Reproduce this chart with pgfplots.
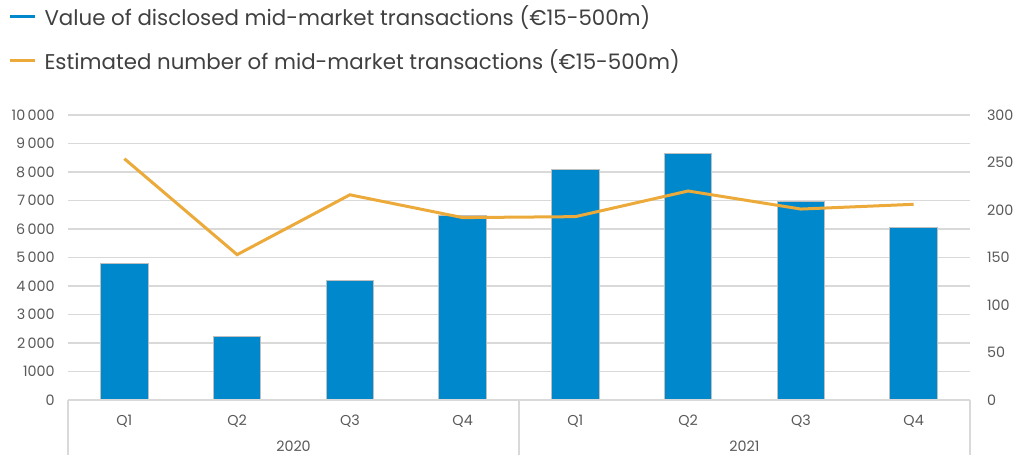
\documentclass[border=0pt]{standalone}
\usepackage{pgfplots}
\pgfplotsset{compat=1.18}
\usepackage{fontspec}
\setmainfont{Poppins}
\definecolor{barblue}{HTML}{0088CC}
\definecolor{lineorange}{HTML}{EBAA3A}
\definecolor{gridgray}{HTML}{D9D9D9}
\definecolor{txtgray}{HTML}{595959}
\definecolor{leggray}{HTML}{404040}

\begin{document}
\begin{tikzpicture}
% 1 px of the reference = 0.6pt
\useasboundingbox (0,0) rectangle (614.4pt,-282.6pt);

\begin{axis}[name=main,
    at={(40.8pt,-240pt)}, anchor=south west,
    scale only axis, width=541.2pt, height=171pt,
    xmin=-0.5, xmax=7.5, ymin=0, ymax=10000,
    scaled y ticks=false,
    axis line style={draw=none},
    xtick={0,...,7}, xticklabels={Q1,Q2,Q3,Q4,Q1,Q2,Q3,Q4},
    xtick style={draw=none},
    xticklabel style={anchor=base, yshift=-15pt, font=\fontsize{8.6}{9}\selectfont, text=txtgray},
    ytick={0,1000,...,10000},
    yticklabels={0,1000,2\,000,3\,000,4\,000,5\,000,6\,000,7\,000,8\,000,9\,000,10\,000},
    ytick style={draw=none},
    yticklabel style={inner sep=0pt, xshift=-7.8pt, font=\fontsize{8.6}{9}\selectfont, text=txtgray},
    ymajorgrids, grid style={gridgray, line width=0.9pt},
    clip=false,
    legend style={at={(-0.0665,1.3965)}, anchor=north west, draw=none, fill=none,
        font=\fontsize{12.8}{14}\selectfont, text=leggray, row sep=9pt, inner sep=0pt},
    legend cell align=left,
    legend image code/.code={\draw[#1, line width=1.8pt] (0pt,0pt) -- (15pt,0pt); \path (18.6pt,0pt);},
]
\addlegendimage{barblue}
\addlegendentry{Value of disclosed mid-market transactions (€15-500m)}
\addlegendimage{lineorange}
\addlegendentry{Estimated number of mid-market transactions (€15-500m)}

\addplot[ybar, bar width=0.42, fill=barblue, draw=gray!50, line width=0.6pt, forget plot]
  coordinates {(0,4780) (1,2230) (2,4180) (3,6480) (4,8100) (5,8640) (6,6950) (7,6060)};

% category box below the plot
\draw[gridgray, line width=0.9pt] (rel axis cs:0,0) -- (rel axis cs:1,0);
\draw[gridgray, line width=0.9pt] (rel axis cs:0,0) -- ([yshift=-33pt]rel axis cs:0,0);
\draw[gridgray, line width=0.9pt] (rel axis cs:0.5,0) -- ([yshift=-33pt]rel axis cs:0.5,0);
\draw[gridgray, line width=0.9pt] (rel axis cs:1,0) -- ([yshift=-33pt]rel axis cs:1,0);
\node[anchor=base, text=txtgray, font=\fontsize{8.6}{9}\selectfont] at ([yshift=-30.6pt]rel axis cs:0.25,0) {2020};
\node[anchor=base, text=txtgray, font=\fontsize{8.6}{9}\selectfont] at ([yshift=-30.6pt]rel axis cs:0.75,0) {2021};
\end{axis}

\begin{axis}[
    at={(40.8pt,-240pt)}, anchor=south west,
    scale only axis, width=541.2pt, height=171pt,
    xmin=-0.5, xmax=7.5, ymin=0, ymax=300,
    axis line style={draw=none},
    xtick=\empty,
    axis y line*=right,
    ytick={0,50,...,300},
    ytick style={draw=none},
    yticklabel style={inner sep=0pt, xshift=10pt, font=\fontsize{8.6}{9}\selectfont, text=txtgray,
        /pgf/number format/assume math mode=true},
]
\addplot[lineorange, line width=1.8pt, mark=none]
  coordinates {(0,254) (1,153) (2,216) (3,192) (4,193) (5,220) (6,201) (7,206)};
\end{axis}
\end{tikzpicture}
\end{document}
